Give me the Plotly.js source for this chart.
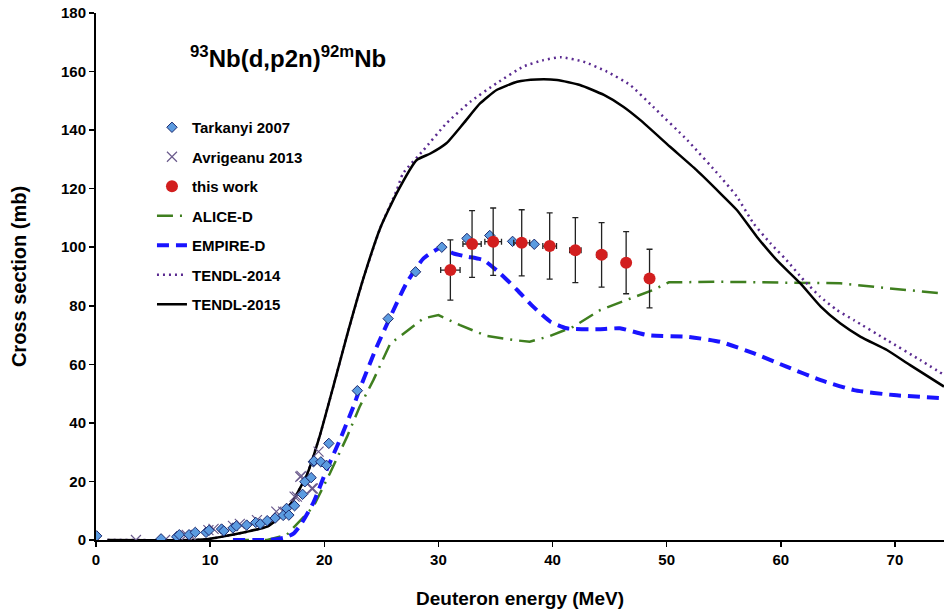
<!DOCTYPE html>
<html>
<head>
<meta charset="utf-8">
<script src="https://cdn.plot.ly/plotly-3.0.1.min.js"></script>
<style>html,body{margin:0;padding:0;background:#fff;}#chart{width:944px;height:614px;}</style>
</head>
<body>
<div id="chart"></div>
<script>
// ---- Data ----
var tarkanyiE = [0.06, 5.7, 7.07, 7.3, 8.15, 8.7, 9.64, 9.9, 11.0, 11.2, 12.0, 12.3, 13.2, 14.0, 14.4, 15.0, 15.7, 16.4, 16.7, 16.9, 17.4, 18.1, 18.3, 18.85, 19.05, 19.1, 19.7, 20.2, 20.4, 22.9, 25.6, 28.0, 30.3, 32.5, 34.5, 36.5, 38.4];
var tarkanyiS = [1.4, 0.4, 1.1, 1.8, 1.8, 2.6, 2.6, 3.3, 3.75, 3.1, 4.1, 4.8, 5.1, 6.0, 5.5, 6.6, 7.5, 8.4, 10.8, 8.5, 11.7, 15.6, 19.9, 21.3, 26.7, 27, 26.7, 25.5, 33, 51, 75.6, 91.6, 100, 103, 104, 102, 101];

var avrigeanuE = [3.5, 6.05, 7.95, 8.4, 9.85, 10.3, 12.0, 12.6, 14.1, 15.8, 16.4, 17.4, 17.6, 17.9, 18.0, 18.9, 19.0, 19.5];
var avrigeanuS = [0, 0, 1.7, 1.2, 3.4, 3.8, 4.8, 5.5, 6.8, 9.7, 9.7, 14.8, 14.8, 21.6, 21.9, 17.6, 17.6, 30.2];

var thisE    = [31.05, 32.95, 34.8, 37.3, 39.75, 42.0, 44.3, 46.45, 48.5];
var thisS    = [92.2, 101.1, 101.9, 101.5, 100.4, 99.0, 97.4, 94.7, 89.3];
var thisErrS = [10.3, 11.4, 11.5, 11.3, 11.3, 11.1, 11.0, 10.6, 10.0];
var thisErrE = [0.85, 0.8, 0.73, 0.7, 0.6, 0.5, 0.44, 0.36, 0.25];

var aliceE = [12, 15, 16.7, 19.05, 20.5, 22.0, 23.1, 24.3, 25.8, 26.6, 28.7, 30.0, 31.9, 34.2, 36.6, 38.0, 39.8, 41.8, 44.2, 46.5, 48.8, 50.2, 54.7, 60.5, 65.2, 69.3, 74.3];
var aliceS = [0, 0, 1.7, 11.4, 22.8, 35.3, 45.5, 54.6, 67.2, 69.4, 75.7, 76.8, 73.4, 69.7, 68.3, 67.7, 69.7, 72.8, 78.6, 82, 85.4, 88, 88.2, 87.9, 87.7, 86, 84.2];

var empireE = [12, 15, 15.8, 16.6, 17.3, 17.9, 19.05, 20.2, 21.4, 22.55, 23.1, 24.6, 25.8, 27.2, 28.7, 30.3, 31.3, 32.5, 33.95, 35.4, 36.9, 38.3, 39.8, 41.25, 44.2, 45.9, 48.3, 51.8, 54.7, 57.6, 60.5, 63.5, 66.4, 69.9, 74.3];
var empireS = [0, 0, 0.3, 0.9, 2.2, 5.0, 12.8, 23.9, 34.5, 45.5, 51.5, 66, 76.3, 87.7, 96.2, 100, 97.9, 96.8, 95.6, 91.1, 85.4, 79.7, 74.6, 72.3, 72, 72.3, 70, 69.4, 67.7, 63.8, 59.2, 54.6, 51.2, 49.5, 48.4];

var tendl14E = [1, 8.5, 10, 11.7, 13.2, 15, 16.1, 17.3, 18.5, 19.6, 20.9, 22.0, 23.4, 24.9, 26.35, 26.9, 28.7, 30.7, 32.8, 35.1, 37.45, 39.2, 40.7, 42.7, 44.75, 46.8, 48.8, 51.8, 54.7, 56.15, 57.6, 59.1, 60.5, 62.0, 63.45, 64.9, 66.4, 69.3, 72.2, 74.3];
var tendl14S = [0, 0, 0.4, 1.6, 2.8, 4.6, 7.8, 13.7, 22.5, 35.5, 54, 70, 89, 106.5, 119.5, 125.2, 133.2, 142.3, 149.7, 156, 161.7, 163.9, 164.9, 163.4, 160, 155.4, 148, 136.6, 124.1, 117.3, 108.2, 101.3, 95.6, 88.8, 83.1, 78.6, 75.1, 68.3, 61.5, 56.4];

var tendl15E = [1, 8.5, 10, 11.7, 13.2, 15, 16.1, 17.3, 18.5, 19.6, 20.9, 22.0, 23.4, 24.9, 26.35, 28.1, 29.3, 30.7, 32.2, 33.65, 35.1, 36.9, 38.6, 40.4, 42.4, 44.5, 46.2, 47.7, 50.3, 52.6, 54.7, 56.15, 57.9, 59.65, 61.7, 63.5, 65.2, 67.0, 69.3, 71.3, 74.3];
var tendl15S = [0, 0, 0.4, 1.6, 2.8, 4.6, 7.8, 13.7, 22.5, 35.5, 54, 70, 89, 106.5, 118.5, 129.8, 132, 135.5, 142.3, 149.1, 153.7, 156.5, 157.3, 157.1, 155.4, 152, 148, 143.4, 134.3, 126.4, 118.4, 112.7, 103.6, 95.6, 87.7, 79.7, 74, 69.4, 64.9, 59.8, 52.4];

var xTicks = [0, 10, 20, 30, 40, 50, 60, 70];
var yTicks = [0, 20, 40, 60, 80, 100, 120, 140, 160, 180];

var FONT = 'Liberation Sans, Arial, sans-serif';

var traces = [
  {x: aliceE, y: aliceS, name: 'ALICE-D', mode: 'lines', legendrank: 4, legendgroup: 'g4',
   line: {color: '#3f7f1f', width: 2.5, dash: '16px,7px,2px,7px'}},
  {x: empireE, y: empireS, name: 'EMPIRE-D', mode: 'lines', legendrank: 5, legendgroup: 'g5',
   line: {color: '#1a14ff', width: 4, dash: '12px,7px', shape: 'spline', smoothing: 0.5}},
  {x: tendl14E, y: tendl14S, name: 'TENDL-2014', mode: 'lines', legendrank: 6, legendgroup: 'g6',
   line: {color: '#5a2a90', width: 2.5, dash: '2px,4px', shape: 'spline', smoothing: 0.5}},
  {x: tendl15E, y: tendl15S, name: 'TENDL-2015', mode: 'lines', legendrank: 7, legendgroup: 'g7',
   line: {color: '#000000', width: 2.5, shape: 'spline', smoothing: 0.5}},
  {x: avrigeanuE, y: avrigeanuS, name: 'Avrigeanu 2013', mode: 'markers', legendrank: 2, legendgroup: 'g2',
   marker: {symbol: 'x-thin-open', size: 10, color: '#6a5a8c', line: {color: '#6a5a8c', width: 1.2}}},
  {x: tarkanyiE, y: tarkanyiS, name: 'Tarkanyi 2007', mode: 'markers', legendrank: 1, legendgroup: 'g1',
   marker: {symbol: 'diamond', size: 8, color: '#5b9be0', line: {color: '#1c2a6e', width: 1}}},
  {x: thisE, y: thisS, name: 'this work', mode: 'markers', legendrank: 3, legendgroup: 'g3',
   marker: {symbol: 'circle', size: 12, color: '#d21f1f'},
   error_y: {type: 'data', array: thisErrS, visible: true, color: '#222', thickness: 1.3, width: 3},
   error_x: {type: 'data', array: thisErrE, visible: true, color: '#222', thickness: 1.3, width: 3}}
];

var layout = {
  width: 944, height: 614,
  margin: {l: 96, r: 0, t: 13, b: 74},
  paper_bgcolor: '#fff', plot_bgcolor: '#fff',
  font: {family: FONT, size: 13, color: '#000'},
  showlegend: true,
  legend: {x: 0.066, y: 0.814, xanchor: 'left', yanchor: 'top', bgcolor: 'rgba(0,0,0,0)',
           font: {family: FONT, size: 15, color: '#000', weight: 'bold'}, tracegroupgap: 7,
           traceorder: 'grouped'},
  xaxis: {range: [0, 74.3], tickvals: xTicks, ticktext: xTicks.map(String), showgrid: false, zeroline: false,
          showline: true, linecolor: '#000', linewidth: 2, ticks: 'outside', ticklen: 5, tickwidth: 1.5, tickcolor: '#000',
          tickfont: {family: FONT, size: 15, weight: 'bold'},
          title: {text: 'Deuteron energy (MeV)', font: {family: FONT, size: 19, weight: 'bold'}, standoff: 25}},
  yaxis: {range: [0, 180], tickvals: yTicks, ticktext: yTicks.map(String), showgrid: false, zeroline: false,
          showline: true, linecolor: '#000', linewidth: 2, ticks: 'outside', ticklen: 5, tickwidth: 1.5, tickcolor: '#000',
          tickfont: {family: FONT, size: 15, weight: 'bold'},
          title: {text: 'Cross section (mb)', font: {family: FONT, size: 20, weight: 'bold'}, standoff: 29}},
  annotations: [{
    text: '<b><sup>93</sup>Nb(d,p2n)<sup>92m</sup>Nb</b>', xref: 'paper', yref: 'paper',
    x: (288 - 96) / 848, y: (540 - 57) / 527, xanchor: 'center', yanchor: 'middle', showarrow: false,
    font: {family: FONT, size: 24, color: '#000'}
  }]
};

Plotly.newPlot('chart', traces, layout, {displayModeBar: false, staticPlot: true});
</script>
</body>
</html>
